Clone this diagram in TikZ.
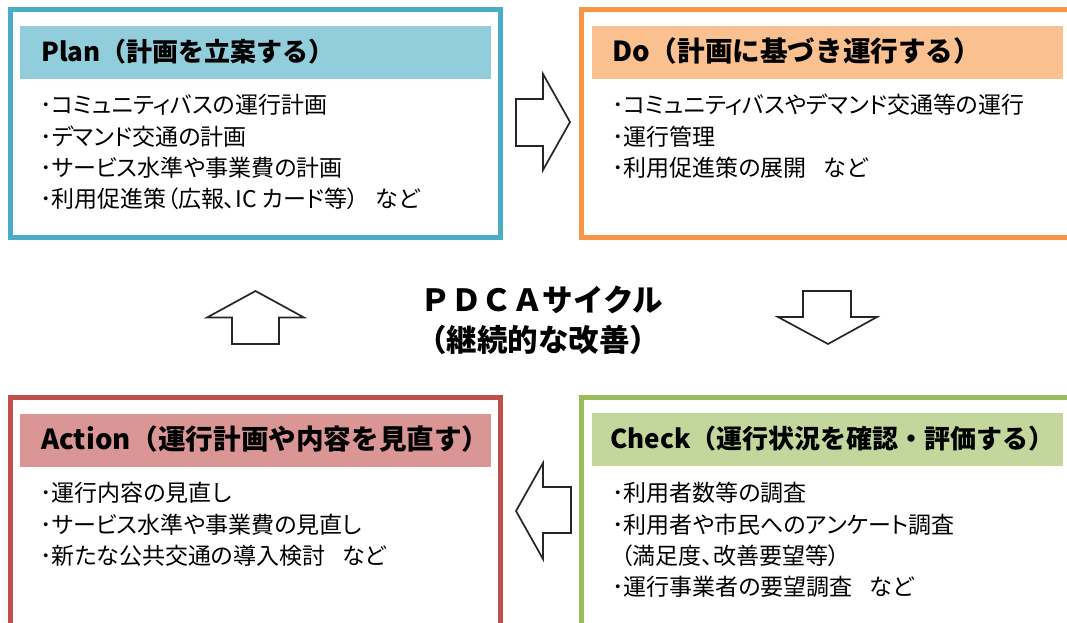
\documentclass[tikz,border=0pt]{standalone}
\usepackage{fontspec}
\setmainfont{Noto Sans CJK JP}
\newfontfamily\jp{Noto Sans CJK JP}
\newfontfamily\jpp{Noto Sans CJK JP}[RawFeature=+palt]
\definecolor{planB}{HTML}{4BACC6}
\definecolor{planH}{HTML}{92CDDC}
\definecolor{doB}{HTML}{F79646}
\definecolor{doH}{HTML}{FAC090}
\definecolor{chkB}{HTML}{9BBB59}
\definecolor{chkH}{HTML}{C3D69B}
\definecolor{actB}{HTML}{C0504D}
\definecolor{actH}{HTML}{D99694}
\newcommand\gapnado{\hspace{17pt}など}
\tikzset{
  box/.style={draw, line width=5pt, minimum width=490pt, minimum height=228pt, inner sep=0pt, outer sep=0pt},
  hdr/.style={minimum width=471pt, minimum height=53pt, inner sep=0pt, outer sep=0pt},
  htext/.style={anchor=base west, inner sep=0pt, font=\jp\bfseries\fontsize{26}{26}\selectfont},
  htextl/.style={anchor=base west, inner sep=0pt, font=\jp\bfseries\fontsize{27.6}{27.6}\selectfont},
  btext/.style={anchor=base west, inner sep=0pt, font=\jpp\fontsize{23}{23}\selectfont},
  ctext/.style={inner sep=0pt, font=\jp\bfseries\fontsize{30.5}{30.5}\selectfont},
  blk/.style={draw=black!85, line width=1.7pt, fill=white, line join=miter},
}
\begin{document}
\begin{tikzpicture}[x=1pt,y=-1pt]
\useasboundingbox (0,0) rectangle (1067,622);
\clip (0,0) rectangle (1067,622);
% boxes
\node[box, draw=planB] (plan) at (255,123.5) {};
\node[box, draw=doB] (do) at (826.75,123.5) {};
\node[box, draw=actB] (act) at (255,511.5) {};
\node[box, draw=chkB] (chk) at (826.75,511.5) {};
% headers
\node[hdr, fill=planH] (planh) at (255.5,52.5) {};
\node[hdr, fill=doH] (doh) at (827.5,52.5) {};
\node[hdr, fill=actH] (acth) at (255.5,440.5) {};
\node[hdr, fill=chkH] (chkh) at (827.5,439.5) {};
\node[htext] (planht) at (41,61) {Plan（計画を立案する）};
\node[htextl] (doht) at (612,61.5) {Do（計画に基づき運行する）};
\node[htextl] (actht) at (41,449.5) {Action（運行計画や内容を見直す）};
\node[htext] (chkht) at (610,448) {Check（運行状況を確認・評価する）};
% body texts
\node[btext] (p1) at (40,113) {･コミュニティバスの運行計画};
\node[btext] (p2) at (40,145) {･デマンド交通の計画};
\node[btext] (p3) at (40,176) {･サービス水準や事業費の計画};
\node[btext] (p4) at (40,207) {･利用促進策（広報、IC カード等）\gapnado};
\node[btext] (d1) at (612,113) {･コミュニティバスやデマンド交通等の運行};
\node[btext] (d2) at (612,145) {･運行管理};
\node[btext] (d3) at (612,176) {･利用促進策の展開\gapnado};
\node[btext] (a1) at (40,501) {･運行内容の見直し};
\node[btext] (a2) at (40,533) {･サービス水準や事業費の見直し};
\node[btext] (a3) at (40,564) {･新たな公共交通の導入検討\gapnado};
\node[btext] (c1) at (612,501) {･利用者数等の調査};
\node[btext] (c2) at (612,533) {･利用者や市民へのアンケート調査};
\node[btext] (c3) at (612,564) {\hspace{9pt}（満足度、改善要望等）};
\node[btext] (c4) at (612,595) {･運行事業者の要望調査\gapnado};
% centre text
\node[ctext] (pdca) at (542,300) {ＰＤＣＡサイクル};
\node[ctext] (kaizen) at (538,340) {（継続的な改善）};
% block arrows
\draw[blk] (516,99) -- (543,99) -- (543,74) -- (570,122) -- (543,170) -- (543,146) -- (516,146) -- cycle;
\draw[blk] (803,291) -- (851,291) -- (851,317) -- (877,317) -- (828,344) -- (778,317) -- (803,317) -- cycle;
\draw[blk] (516,511) -- (543,463) -- (543,487) -- (571,487) -- (571,533) -- (543,533) -- (543,559) -- cycle;
\draw[blk] (255.5,291) -- (304,317.5) -- (279,317.5) -- (279,344) -- (232,344) -- (232,317.5) -- (207,317.5) -- cycle;
\end{tikzpicture}
\end{document}
